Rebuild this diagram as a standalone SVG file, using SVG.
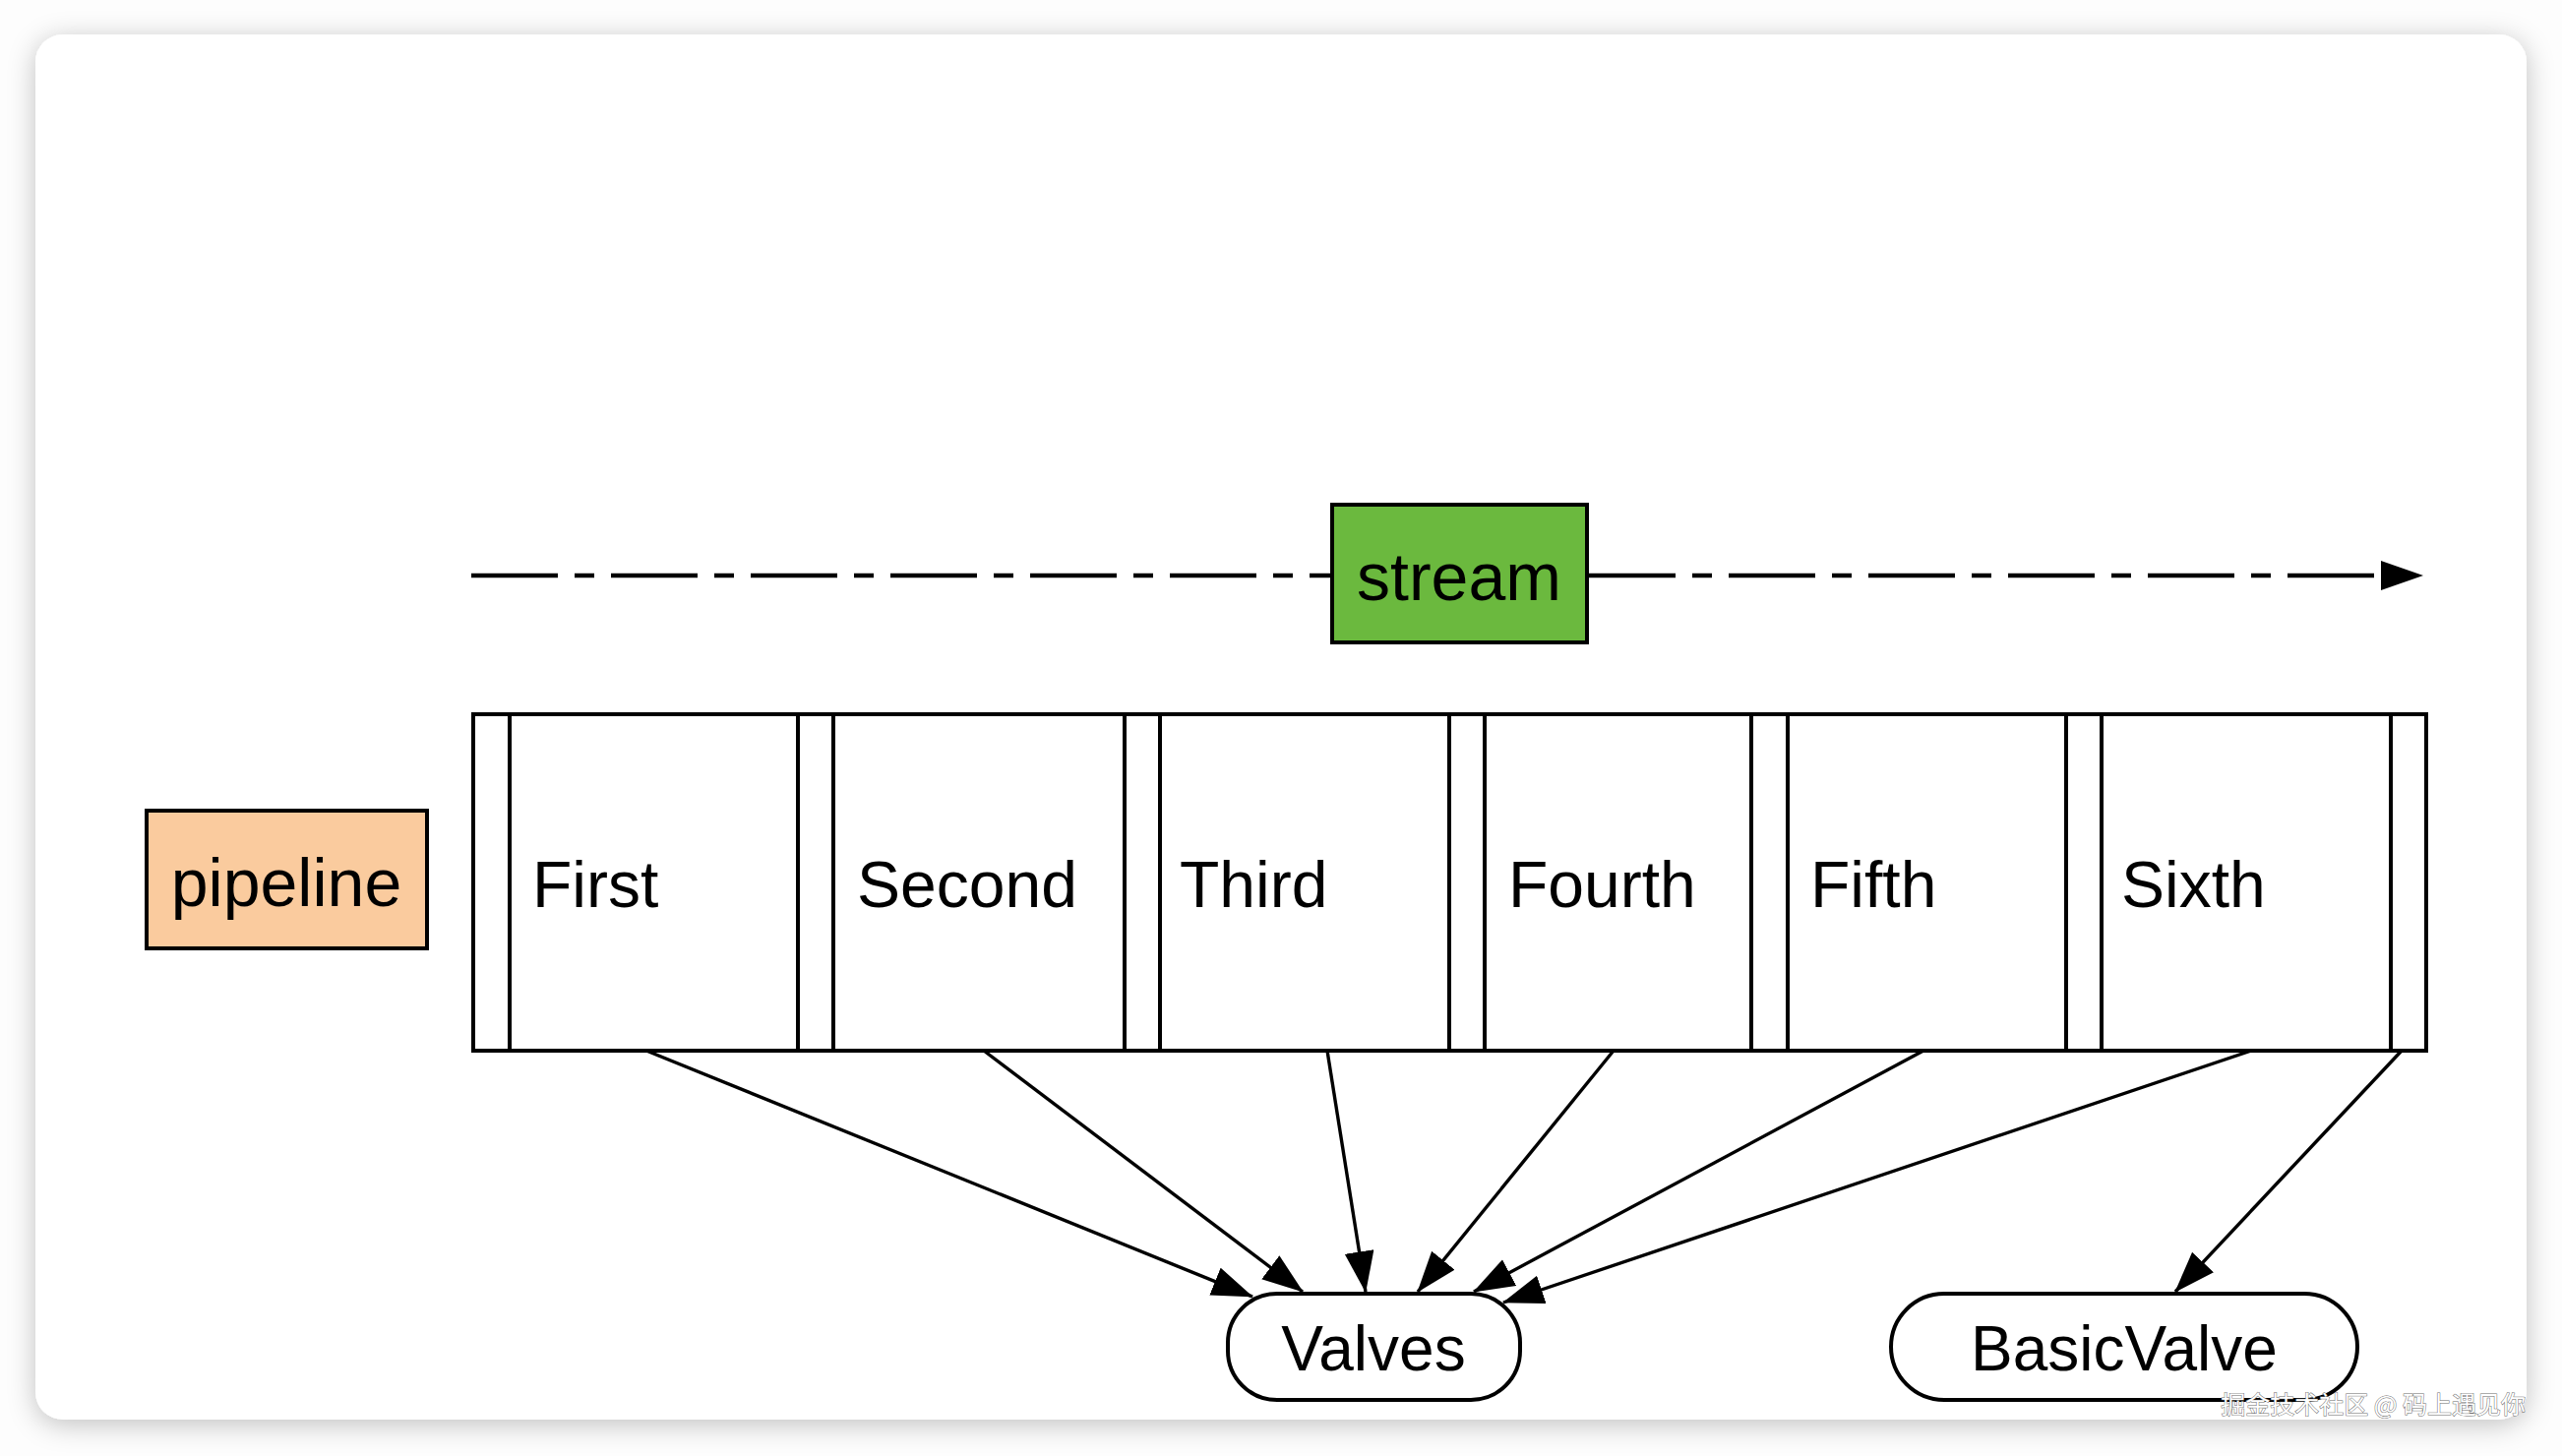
<svg xmlns="http://www.w3.org/2000/svg" width="2604" height="1480" viewBox="0 0 2604 1480">
  <style>
    .box { stroke: #000; stroke-width: 4; }
    .cell { fill: #fff; stroke: #000; stroke-width: 4; }
    .lbl { font-family: "Liberation Sans", Arial, Helvetica, sans-serif; fill: #000; }
    .edge { stroke: #000; stroke-width: 3.4; fill: none; }
    .wm { font-family: "Noto Sans CJK SC", "Liberation Sans", sans-serif; font-size: 25px; fill: #fff; stroke: #6a6a6a; stroke-width: 1; paint-order: stroke; }
  </style>
  <defs>
    <filter id="shadow" x="-5%" y="-5%" width="110%" height="112%">
      <feDropShadow dx="0" dy="5" stdDeviation="14" flood-color="#000" flood-opacity="0.24"/>
    </filter>
    <marker id="arr" markerUnits="userSpaceOnUse" markerWidth="44" markerHeight="32" refX="41" refY="15" orient="auto">
      <path d="M0,0 L42,15 L0,30 Z" fill="#000"/>
    </marker>
    <marker id="arrBig" markerUnits="userSpaceOnUse" markerWidth="44" markerHeight="32" refX="42" refY="15" orient="auto">
      <path d="M0,0 L43,15 L0,30 Z" fill="#000"/>
    </marker>
  </defs>

  <rect width="2604" height="1480" fill="#fdfdfd"/>
  <rect x="36" y="35" width="2532" height="1408" rx="28" fill="#fff" filter="url(#shadow)"/>

  <g id="connectors">
    <line id="stream-line" x1="479" y1="585" x2="2462" y2="585" stroke="#000" stroke-width="4.5" stroke-dasharray="88 17 20 17" marker-end="url(#arrBig)"/>
    <line class="edge" x1="657" y1="1068" x2="1273" y2="1318" marker-end="url(#arr)"/>
    <line class="edge" x1="1000" y1="1068" x2="1324" y2="1313" marker-end="url(#arr)"/>
    <line class="edge" x1="1349" y1="1068" x2="1388" y2="1313" marker-end="url(#arr)"/>
    <line class="edge" x1="1640" y1="1068" x2="1441" y2="1313" marker-end="url(#arr)"/>
    <line class="edge" x1="1955" y1="1068" x2="1498" y2="1313" marker-end="url(#arr)"/>
    <line class="edge" x1="2288" y1="1068" x2="1528" y2="1324" marker-end="url(#arr)"/>
    <line class="edge" x1="2441" y1="1068" x2="2211" y2="1313" marker-end="url(#arr)"/>
  </g>

  <g id="stream">
    <rect class="box" x="1354" y="513" width="259" height="140" fill="#6bb93e"/>
    <text class="lbl" x="1483" y="610" font-size="68" text-anchor="middle">stream</text>
  </g>

  <g id="pipeline">
    <rect class="box" x="149" y="824" width="285" height="140" fill="#facb9e"/>
    <text class="lbl" x="291" y="921" font-size="68" text-anchor="middle">pipeline</text>
  </g>

  <g id="strips">
    <rect class="cell" x="481" y="726" width="37" height="342"/>
    <rect class="cell" x="811" y="726" width="36" height="342"/>
    <rect class="cell" x="1143" y="726" width="36" height="342"/>
    <rect class="cell" x="1473" y="726" width="36" height="342"/>
    <rect class="cell" x="1780" y="726" width="37" height="342"/>
    <rect class="cell" x="2100" y="726" width="36" height="342"/>
    <rect class="cell" x="2430" y="726" width="36" height="342"/>
  </g>

  <g id="first">
    <rect class="cell" x="518" y="726" width="293" height="342"/>
    <text class="lbl" x="541" y="922" font-size="66">First</text>
  </g>
  <g id="second">
    <rect class="cell" x="847" y="726" width="296" height="342"/>
    <text class="lbl" x="871" y="922" font-size="66">Second</text>
  </g>
  <g id="third">
    <rect class="cell" x="1179" y="726" width="294" height="342"/>
    <text class="lbl" x="1199" y="922" font-size="66">Third</text>
  </g>
  <g id="fourth">
    <rect class="cell" x="1509" y="726" width="271" height="342"/>
    <text class="lbl" x="1533" y="922" font-size="66">Fourth</text>
  </g>
  <g id="fifth">
    <rect class="cell" x="1817" y="726" width="283" height="342"/>
    <text class="lbl" x="1840" y="922" font-size="66">Fifth</text>
  </g>
  <g id="sixth">
    <rect class="cell" x="2136" y="726" width="294" height="342"/>
    <text class="lbl" x="2156" y="922" font-size="66">Sixth</text>
  </g>

  <g id="valves">
    <rect class="box" x="1248" y="1315" width="297" height="108" rx="50" fill="#fff"/>
    <text class="lbl" x="1396" y="1393" font-size="64" text-anchor="middle">Valves</text>
  </g>
  <g id="basicvalve">
    <rect class="box" x="1922" y="1315" width="474" height="108" rx="54" fill="#fff"/>
    <text class="lbl" x="2159" y="1393" font-size="64" text-anchor="middle">BasicValve</text>
  </g>

  <text class="wm" x="2567" y="1437" text-anchor="end">掘金技术社区 @ 码上遇见你</text>
</svg>
